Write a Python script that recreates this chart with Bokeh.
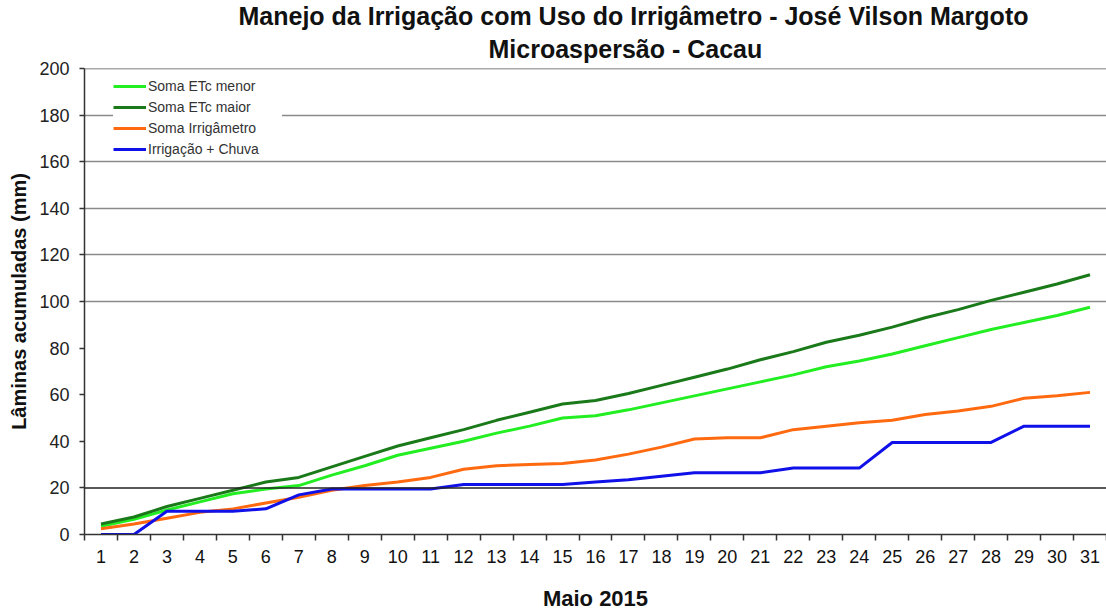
from bokeh.plotting import figure
from bokeh.models import Title, FixedTicker, Span, Legend, LegendItem, ColumnDataSource
from bokeh.embed import file_html
from bokeh.resources import INLINE

days = list(range(1, 32))
etc_menor = [3.5, 6.5, 10.5, 14, 17.5, 19.5, 21, 25.5, 29.5, 34, 37, 40, 43.5, 46.5, 50, 51,
             53.5, 56.5, 59.5, 62.5, 65.5, 68.5, 72, 74.5, 77.5, 81, 84.5, 88, 91, 94, 97.5]
etc_maior = [4.5, 7.5, 12, 15.5, 19, 22.5, 24.5, 29, 33.5, 38, 41.5, 45, 49, 52.5, 56, 57.5,
             60.5, 64, 67.5, 71, 75, 78.5, 82.5, 85.5, 89, 93, 96.5, 100.5, 104, 107.5, 111.5]
irrigametro = [2.5, 4.5, 7, 9.5, 11, 13.5, 16, 19, 21, 22.5, 24.5, 28, 29.5, 30, 30.5, 32,
               34.5, 37.5, 41, 41.5, 41.5, 45, 46.5, 48, 49, 51.5, 53, 55, 58.5, 59.5, 61]
irrig_chuva = [0, 0, 10, 10, 10, 11, 17, 19.5, 19.5, 19.5, 19.5, 21.5, 21.5, 21.5, 21.5, 22.5,
               23.5, 25, 26.5, 26.5, 26.5, 28.5, 28.5, 28.5, 39.5, 39.5, 39.5, 39.5, 46.5, 46.5, 46.5]
series_names = ["Soma ETc menor", "Soma ETc maior", "Soma Irrigâmetro", "Irrigação + Chuva"]
series_colors = ["#22ee22", "#1a7a1a", "#ff6a10", "#1010e8"]
y_ticks = list(range(0, 201, 20))
grid_ticks = [100, 120, 140, 160, 180, 200]

FONT = "Liberation Sans"

p = figure(width=1106, height=614, x_range=(0.5, 31.5), y_range=(0, 200),
           output_backend="svg", toolbar_location=None, title=None,
           min_border_left=84, min_border_right=0, min_border_bottom=80, min_border_top=68)
p.outline_line_color = None
p.background_fill_color = "white"

src = ColumnDataSource(dict(day=days, a=etc_menor, b=etc_maior, c=irrigametro, d=irrig_chuva))
renderers = []
for key, color in zip(["a", "b", "c", "d"], series_colors):
    r = p.line("day", key, source=src, line_color=color, line_width=3)
    renderers.append(r)

# grids
p.xgrid.visible = False
p.ygrid.ticker = FixedTicker(ticks=grid_ticks)
p.ygrid.grid_line_color = "#8a8a8a"
p.ygrid.grid_line_width = 1.5
p.add_layout(Span(location=20, dimension="width", line_color="#222222", line_width=1.5))
p.add_layout(Span(location=200, dimension="width", line_color="#555555", line_width=1.5))

# x axis
xa = p.xaxis[0]
xa.ticker = FixedTicker(ticks=days, minor_ticks=[d + 0.5 for d in range(0, 32)])
xa.major_tick_out = 0
xa.major_tick_in = 0
xa.minor_tick_out = 6
xa.minor_tick_in = 0
xa.minor_tick_line_color = "#333333"
xa.minor_tick_line_width = 1.5
xa.axis_line_color = "#333333"
xa.axis_line_width = 1.5
xa.major_label_text_font = FONT
xa.major_label_text_font_size = "18px"
xa.major_label_text_color = "#111111"
xa.major_label_standoff = 9
xa.axis_label = "Maio 2015"
xa.axis_label_text_font = FONT
xa.axis_label_text_font_size = "22px"
xa.axis_label_text_font_style = "bold"
xa.axis_label_text_color = "#111111"
xa.axis_label_standoff = 20

# y axis
ya = p.yaxis[0]
ya.ticker = FixedTicker(ticks=y_ticks)
ya.minor_tick_line_color = None
ya.major_tick_out = 5
ya.major_tick_in = 0
ya.major_tick_line_color = "#333333"
ya.major_tick_line_width = 1.5
ya.axis_line_color = "#333333"
ya.axis_line_width = 1.5
ya.major_label_text_font = FONT
ya.major_label_text_font_size = "18px"
ya.major_label_text_color = "#222222"
ya.major_label_standoff = 10
ya.axis_label = "Lâminas acumuladas (mm)"
ya.axis_label_text_font = FONT
ya.axis_label_text_font_size = "20px"
ya.axis_label_text_font_style = "bold"
ya.axis_label_text_color = "#111111"
ya.axis_label_standoff = 6

# titles (first added is nearest the plot)
p.add_layout(Title(text="Microaspersão - Cacau", align="left", offset=404, text_font=FONT,
                   text_font_size="25px", text_font_style="bold", text_color="#111111",
                   standoff=12), "above")
p.add_layout(Title(text="Manejo da Irrigação com Uso do Irrigâmetro - José Vilson Margoto",
                   align="left", offset=154, text_font=FONT, text_font_size="25px",
                   text_font_style="bold", text_color="#111111", standoff=-6), "above")

legend = Legend(items=[LegendItem(label=n, renderers=[r]) for n, r in zip(series_names, renderers)],
                location=(29, 375), border_line_color=None, background_fill_color="white",
                background_fill_alpha=1.0, padding=3, spacing=1, glyph_width=33, glyph_height=20,
                label_height=20, label_width=134, label_standoff=2,
                label_text_font=FONT, label_text_font_size="14px", label_text_color="#333333")
p.add_layout(legend, "center")

open("out.html", "w").write(file_html(p, INLINE))
